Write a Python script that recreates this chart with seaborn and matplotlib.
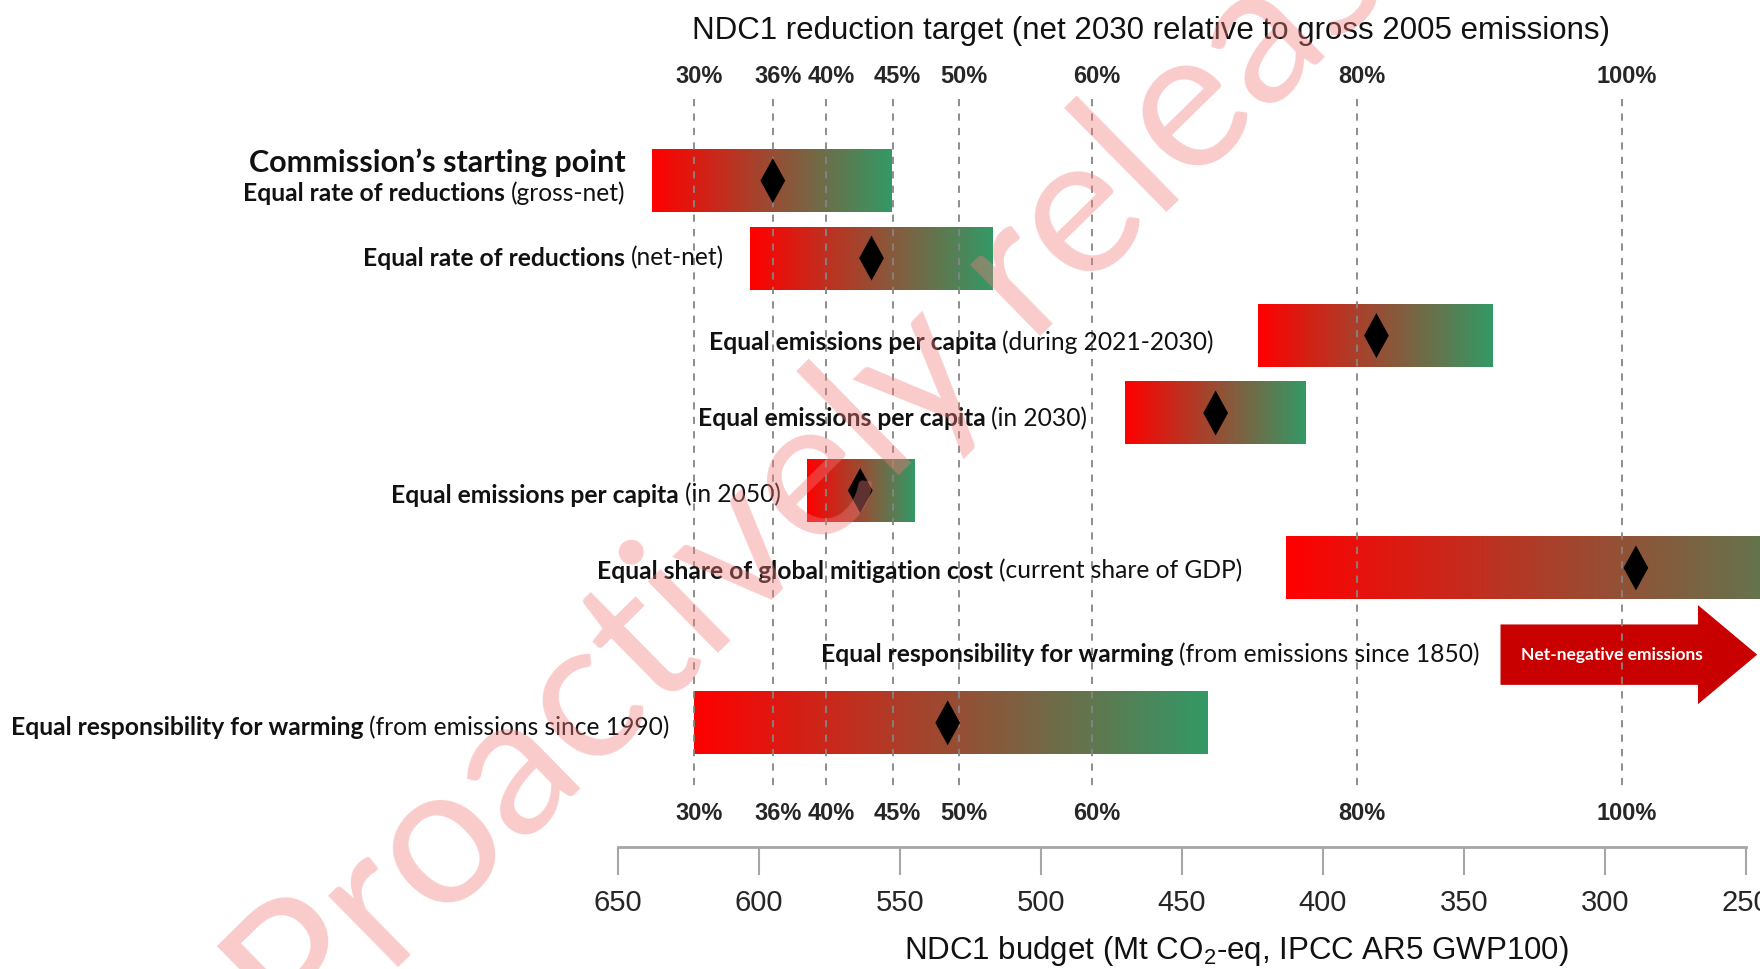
import numpy as np
import pandas as pd
import matplotlib
matplotlib.use("Agg")
import matplotlib.pyplot as plt
from matplotlib.colors import LinearSegmentedColormap
from matplotlib.patches import Polygon
from matplotlib.path import Path
import seaborn as sns

# ---- data ----
approach_bold = [
    "Equal rate of reductions",
    "Equal rate of reductions",
    "Equal emissions per capita",
    "Equal emissions per capita",
    "Equal emissions per capita",
    "Equal share of global mitigation cost",
    "Equal responsibility for warming",
    "Equal responsibility for warming",
]
approach_note = [
    "(gross-net)",
    "(net-net)",
    "(during 2021-2030)",
    "(in 2030)",
    "(in 2050)",
    "(current share of GDP)",
    "(from emissions since 1850)",
    "(from emissions since 1990)",
]
# NDC1 budget range per approach, Mt CO2-eq (start = least ambitious end)
budget_start = [638, 603, 423, 470, 583, 413, np.nan, 623]
budget_end = [553, 517, 340, 406, 545, 190, np.nan, 441]
budget_central = [595, 560, 381, 438, 564, 289, np.nan, 533]
# the 1850 approach lands beyond 100 %: net-negative emissions
net_negative_start = 337
net_negative_tip = 246

pct_ticks = [30, 36, 40, 45, 50, 60, 80, 100]
budget_ticks = [650, 600, 550, 500, 450, 400, 350, 300, 250]
# reduction target (%) -> NDC1 budget (Mt)
BUDGET_AT_ZERO = 764
MT_PER_PCT = 4.7


def pct_to_budget(p):
    return BUDGET_AT_ZERO - MT_PER_PCT * np.asarray(p, dtype=float)


# ---- style ----
sns.set_style("white")
plt.rcParams['font.family'] = ['Liberation Sans', 'DejaVu Sans']
label_font = ['Lato', 'DejaVu Sans']
W, H = 1760, 969

fig = plt.figure(figsize=(W / 100, H / 100), dpi=100)
ax = fig.add_axes([0, 0.1254, 1, 0.8746])

rows = np.arange(len(approach_bold), dtype=float)
rows[6] += 0.12
half_h = 0.406

cmap = LinearSegmentedColormap.from_list("redgreen", ["#ff0000", "#339966"])
grad = np.linspace(0, 1, 256).reshape(1, -1)

for i, r in enumerate(rows):
    if np.isnan(budget_start[i]):
        continue
    ax.imshow(grad, cmap=cmap, aspect='auto', interpolation='bilinear',
              extent=[budget_start[i], budget_end[i], r + half_h, r - half_h],
              zorder=1)

# net-negative arrow
r6 = rows[6]
head_len = 21
arrow_pts = [
    (net_negative_start, r6 - 0.39), (net_negative_tip + head_len, r6 - 0.39),
    (net_negative_tip + head_len, r6 - 0.64), (net_negative_tip, r6),
    (net_negative_tip + head_len, r6 + 0.64), (net_negative_tip + head_len, r6 + 0.39),
    (net_negative_start, r6 + 0.39),
]
ax.add_patch(Polygon(arrow_pts, closed=True, facecolor="#c80000",
                     edgecolor='none', zorder=1))
ax.text((net_negative_start + net_negative_tip) / 2 + 6, r6,
        "Net-negative emissions", color='white', fontsize=12.5, weight='bold',
        family=label_font, ha='center', va='center', zorder=5)

# dashed reference lines for the reduction targets
pct_budget = pct_to_budget(pct_ticks)
ax.vlines(pct_budget, -1.06, 7.88, colors="#858585", linestyles=(0, (4, 4)),
          linewidth=1.3, zorder=2)
for p, b in zip(pct_ticks, pct_budget):
    for yy in (-1.348, 8.17):
        ax.annotate(f"{p}%", xy=(b, yy), xytext=(5, 0), textcoords='offset pixels',
                    ha='center', va='center', fontsize=17, weight='bold')

# central estimates (slim diamond)
diamond = Path([(0, -1), (0.55, 0), (0, 1), (-0.55, 0), (0, -1)],
               [Path.MOVETO, Path.LINETO, Path.LINETO, Path.LINETO, Path.CLOSEPOLY])
df = pd.DataFrame({'central': budget_central, 'row': rows}).dropna()
sns.scatterplot(data=df, x='central', y='row', marker=diamond, s=1050,
                color='black', edgecolor='none', ax=ax, zorder=4, legend=False)

# row labels: bold approach + regular note, right aligned before the bar
label_dy = [0.16, 0.0, 0.09, 0.07, 0.06, 0.04, 0.0, 0.06]
label_gap = [26, 26, 44, 38, 26, 44, 21, 24]
for i, r in enumerate(rows):
    x0 = budget_start[i] if not np.isnan(budget_start[i]) else net_negative_start
    note = ax.annotate(approach_note[i], xy=(x0, r + label_dy[i]),
                       xytext=(-label_gap[i], 0), textcoords='offset pixels',
                       ha='right', va='center', fontsize=17.7, family=label_font,
                       color='#111111')
    ax.annotate(approach_bold[i], xy=(0, 0), xycoords=note, xytext=(-6, 0),
                textcoords='offset pixels', ha='right', va='bottom',
                fontsize=17.7, weight='bold', family=label_font, color='#111111')
    if i == 0:
        ax.annotate("Commission\u2019s starting point", xy=(x0, r - 0.23),
                    xytext=(-label_gap[i], 0), textcoords='offset pixels',
                    ha='right', va='center', fontsize=22, weight='bold',
                    family=label_font, color='#111111')

# axes
ax.set_xlim(869, 245)
ax.set_ylim(8.61, -2.333)
ax.set_yticks([])
ax.set_xticks(budget_ticks)
ax.set_xticklabels([str(b) for b in budget_ticks])
ax.tick_params(axis='x', length=20, width=1.5, color='#a6a6a6', labelsize=21,
               pad=10, direction='out', bottom=True)
for s in ('left', 'right', 'top'):
    ax.spines[s].set_visible(False)
ax.spines['bottom'].set_bounds(650, 250)
ax.spines['bottom'].set_color('#a6a6a6')
ax.spines['bottom'].set_linewidth(2)
ax.set_xlabel('')
ax.set_ylabel('')
ax.patch.set_alpha(0)

fig.text(1151 / W, 1 - 31 / H,
         "NDC1 reduction target (net 2030 relative to gross 2005 emissions)",
         ha='center', va='center', fontsize=22.5, color='#111111')
fig.text(1236 / W, 1 - 951 / H,
         "NDC1 budget (Mt CO$_\\mathregular{2}$-eq, IPCC AR5 GWP100)",
         ha='center', va='center', fontsize=22.5, color='#111111')

# watermark: sized and placed so the two letters "a" sit where they do in the source
renderer = fig.canvas.get_renderer()


def text_w(s, fs):
    t = fig.text(0, 0, s, fontsize=fs, family=label_font)
    w = t.get_window_extent(renderer=renderer).width
    t.remove()
    return w


wm_text = "Proactively released"
theta = 44.5
a_first = np.array([520.0, 777.0])
a_second = np.array([1265.0, 45.0])
w_a = text_w("a", 100)
w1 = text_w("Pro", 100) + w_a / 2
w2 = text_w("Proactively rele", 100) + w_a / 2
wm_fs = 100 * np.hypot(*(a_second - a_first)) / (w2 - w1)
xh = 0.506 * wm_fs * 100 / 72
th = np.radians(theta)
bx = a_first[0] + xh / 2 * np.sin(th)
by = a_first[1] + xh / 2 * np.cos(th)
sx = bx - w1 * wm_fs / 100 * np.cos(th)
sy = by + w1 * wm_fs / 100 * np.sin(th)
fig.text(sx / W, 1 - sy / H, wm_text, rotation=theta, rotation_mode='anchor',
         ha='left', va='baseline', fontsize=wm_fs, family=label_font,
         color='#f47c7c', alpha=0.4, zorder=10)

fig.savefig("out.png", dpi=100)
